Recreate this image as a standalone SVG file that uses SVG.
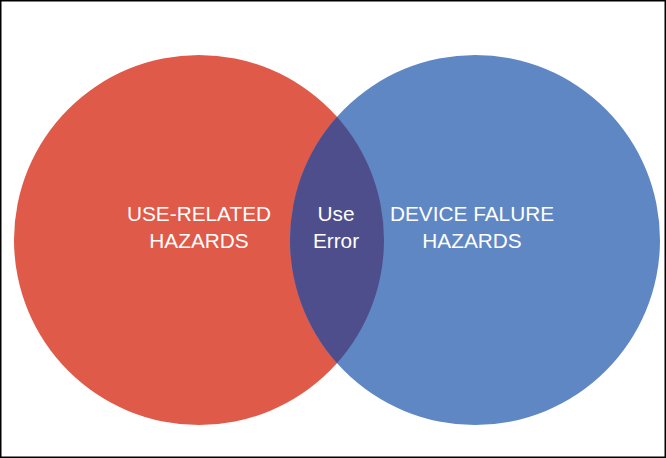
<svg xmlns="http://www.w3.org/2000/svg" width="666" height="458" viewBox="0 0 666 458">
<style>
text{font-family:"Liberation Sans",Arial,sans-serif;font-size:20.8px;fill:#fff;text-anchor:middle}
</style>
<defs><clipPath id="cr"><circle cx="199" cy="240" r="185"/></clipPath></defs>
<rect x="0.75" y="0.75" width="664.5" height="456.5" fill="#fff" stroke="#000" stroke-width="1.5"/>
<g id="use-related"><circle cx="199" cy="240" r="185" fill="#DF5A48"/></g>
<g id="device-failure"><circle cx="475" cy="240" r="185" fill="#5F87C4"/></g>
<g id="use-error"><circle cx="475" cy="240" r="185" fill="#4F4E8C" clip-path="url(#cr)"/></g>
<text x="199" y="221">USE-RELATED</text><text x="199" y="248">HAZARDS</text>
<text x="336" y="221">Use</text><text x="336" y="248">Error</text>
<text x="472" y="221">DEVICE FALURE</text><text x="472" y="248">HAZARDS</text>
</svg>
